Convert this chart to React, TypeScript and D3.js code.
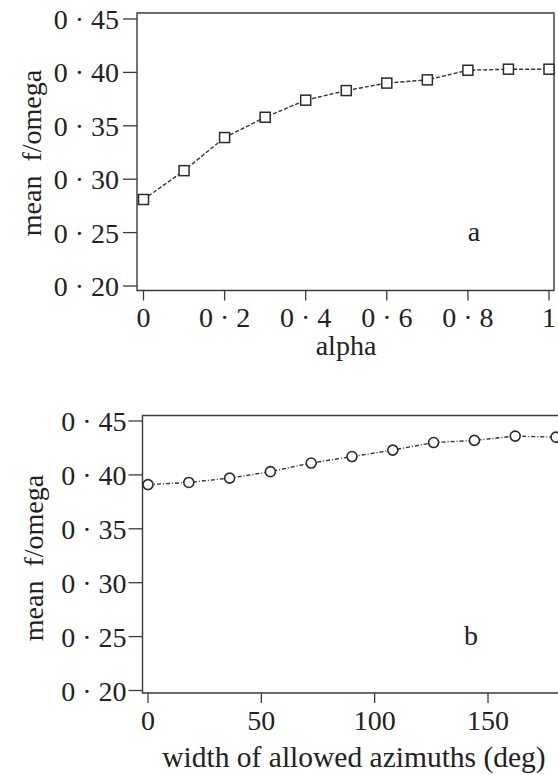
import React from "react";
import * as d3 from "d3";

// Panel a
const alphaValues = [0, 0.1, 0.2, 0.3, 0.4, 0.5, 0.6, 0.7, 0.8, 0.9, 1.0];
const meanFOmegaA = [0.281, 0.308, 0.339, 0.358, 0.374, 0.383, 0.39, 0.393, 0.402, 0.403, 0.403];
const alphaTicks = [0, 0.2, 0.4, 0.6, 0.8, 1];
const alphaTickLabels = ["0", "0 · 2", "0 · 4", "0 · 6", "0 · 8", "1"];

// Panel b
const azimuthWidths = [0, 18, 36, 54, 72, 90, 108, 126, 144, 162, 180];
const meanFOmegaB = [0.391, 0.393, 0.397, 0.403, 0.411, 0.417, 0.423, 0.43, 0.432, 0.436, 0.435];
const azimuthTicks = [0, 50, 100, 150];
const azimuthTickLabels = ["0", "50", "100", "150"];

// Shared y axis
const yTicks = [0.2, 0.25, 0.3, 0.35, 0.4, 0.45];
const yTickLabels = ["0 · 20", "0 · 25", "0 · 30", "0 · 35", "0 · 40", "0 · 45"];

const FONT = "'Liberation Serif', 'Times New Roman', serif";
const AXIS = "#3a3a3a";
const INK = "#222";

type PanelProps = {
  xs: number[];
  ys: number[];
  xDomain: [number, number];
  xRange: [number, number];
  yRange: [number, number];
  box: { left: number; right: number; top: number; bottom: number };
  xTicks: number[];
  xTickLabels: string[];
  xLabel: string;
  xLabelPos: [number, number];
  xLabelSize: number;
  yLabelPos: [number, number];
  panel: string;
  panelPos: [number, number];
  marker: "square" | "circle";
  dash: string;
  tickLabelGap: number;
  xTickLabelDy: number;
};

function Panel(p: PanelProps) {
  const x = d3.scaleLinear().domain(p.xDomain).range(p.xRange);
  const y = d3.scaleLinear().domain([0.2, 0.45]).range(p.yRange);
  const pts = p.xs.map((v, i) => [x(v), y(p.ys[i])] as [number, number]);
  const line = d3.line()(pts) || "";
  const { left, right, top, bottom } = p.box;
  return (
    <g>
      <path
        d={`M${left},${top}L${right},${top}L${right},${bottom}L${left},${bottom}Z`}
        fill="none"
        stroke={AXIS}
        strokeWidth={1.4}
      />
      {yTicks.map((t, i) => (
        <g key={"y" + i}>
          <line x1={left - 14} x2={left} y1={y(t)} y2={y(t)} stroke={AXIS} strokeWidth={1.3} />
          <text
            x={left - 14 - p.tickLabelGap}
            y={y(t) + 10}
            textAnchor="end"
            fontFamily={FONT}
            fontSize={28}
            fill={INK}
            style={{ whiteSpace: "pre" }}
          >
            {yTickLabels[i]}
          </text>
        </g>
      ))}
      {p.xTicks.map((t, i) => (
        <g key={"x" + i}>
          <line x1={x(t)} x2={x(t)} y1={bottom} y2={bottom + 10} stroke={AXIS} strokeWidth={1.3} />
          <text
            x={x(t)}
            y={bottom + p.xTickLabelDy}
            textAnchor="middle"
            fontFamily={FONT}
            fontSize={28}
            fill={INK}
            style={{ whiteSpace: "pre" }}
          >
            {p.xTickLabels[i]}
          </text>
        </g>
      ))}
      <path d={line} fill="none" stroke="#333" strokeWidth={1.4} strokeDasharray={p.dash} />
      {pts.map(([px, py], i) =>
        p.marker === "square" ? (
          <rect key={i} x={px - 5} y={py - 5} width={10} height={10} fill="white" stroke="#2a2a2a" strokeWidth={1.5} />
        ) : (
          <circle key={i} cx={px} cy={py} r={5} fill="white" stroke="#2a2a2a" strokeWidth={1.6} />
        )
      )}
      <text
        x={p.xLabelPos[0]}
        y={p.xLabelPos[1]}
        textAnchor="middle"
        fontFamily={FONT}
        fontSize={p.xLabelSize}
        fill={INK}
      >
        {p.xLabel}
      </text>
      <text
        transform={`translate(${p.yLabelPos[0]},${p.yLabelPos[1]}) rotate(-90)`}
        textAnchor="middle"
        fontFamily={FONT}
        fontSize={28}
        fill={INK}
        style={{ whiteSpace: "pre" }}
      >
        {"mean  f/omega"}
      </text>
      <text x={p.panelPos[0]} y={p.panelPos[1]} textAnchor="middle" fontFamily={FONT} fontSize={28} fill={INK}>
        {p.panel}
      </text>
    </g>
  );
}

export default function App() {
  return (
    <svg
      width={558}
      height={775}
      style={{ position: "absolute", left: 0, top: 0, background: "white" }}
    >
      <rect x={0} y={0} width={558} height={775} fill="white" />
      <Panel
        xs={alphaValues}
        ys={meanFOmegaA}
        xDomain={[0, 1]}
        xRange={[143.5, 549]}
        yRange={[286, 19]}
        box={{ left: 137, right: 554, top: 13, bottom: 290.5 }}
        xTicks={alphaTicks}
        xTickLabels={alphaTickLabels}
        xLabel="alpha"
        xLabelPos={[346, 355]}
        xLabelSize={28}
        yLabelPos={[41, 153]}
        panel="a"
        panelPos={[474, 241]}
        marker="square"
        dash="4 2"
        tickLabelGap={4}
        xTickLabelDy={36}
      />
      <Panel
        xs={azimuthWidths}
        ys={meanFOmegaB}
        xDomain={[0, 180]}
        xRange={[148, 556]}
        yRange={[690.5, 421]}
        box={{ left: 142.5, right: 620, top: 415.5, bottom: 693 }}
        xTicks={azimuthTicks}
        xTickLabels={azimuthTickLabels}
        xLabel="width of allowed azimuths (deg)"
        xLabelPos={[354, 767]}
        xLabelSize={29.5}
        yLabelPos={[43, 558]}
        panel="b"
        panelPos={[471, 645]}
        marker="circle"
        dash="4 2 1 2"
        tickLabelGap={2}
        xTickLabelDy={37}
      />
    </svg>
  );
}
